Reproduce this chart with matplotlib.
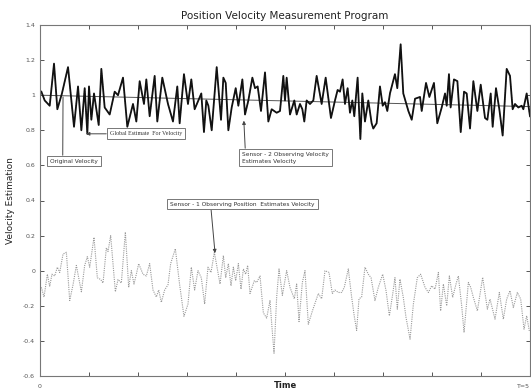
import matplotlib
matplotlib.use("Agg")
from matplotlib import pyplot as plt

# sensor 2 (observing velocity) estimate
t_top = [0.014, 0.048, 0.099, 0.143, 0.177, 0.224, 0.286, 0.347, 0.388, 0.422,
         0.456, 0.483, 0.5, 0.524, 0.551, 0.599, 0.626, 0.660, 0.711, 0.762,
         0.796, 0.847, 0.891, 0.949, 0.983, 1.017, 1.061, 1.085, 1.119, 1.170,
         1.197, 1.248, 1.306, 1.357, 1.401, 1.425, 1.469, 1.510, 1.544, 1.578,
         1.646, 1.673, 1.697, 1.718, 1.752, 1.803, 1.847, 1.871, 1.895, 1.922,
         1.956, 1.997, 2.024, 2.065, 2.092, 2.126, 2.167, 2.194, 2.221, 2.255,
         2.296, 2.330, 2.364, 2.415, 2.449, 2.483, 2.5, 2.517, 2.551, 2.595,
         2.619, 2.653, 2.677, 2.697, 2.721, 2.755, 2.789, 2.823, 2.874, 2.915,
         2.969, 3.010, 3.037, 3.061, 3.088, 3.112, 3.139, 3.163, 3.187, 3.207,
         3.241, 3.269, 3.289, 3.316, 3.350, 3.384, 3.401, 3.435, 3.469, 3.497,
         3.520, 3.544, 3.571, 3.622, 3.646, 3.680, 3.707, 3.759, 3.793, 3.827,
         3.878, 3.895, 3.939, 3.973, 4.020, 4.054, 4.099, 4.133, 4.150, 4.173,
         4.190, 4.224, 4.259, 4.293, 4.327, 4.354, 4.388, 4.422, 4.463, 4.497,
         4.541, 4.565, 4.599, 4.619, 4.653, 4.687, 4.721, 4.762, 4.796, 4.823,
         4.847, 4.881, 4.915, 4.932, 4.966, 5.0]
v_top = [1.02, 0.97, 0.94, 1.18, 0.92, 1.01, 1.16, 0.82, 1.05, 0.80,
         1.04, 0.78, 1.05, 0.86, 1.01, 0.83, 1.15, 0.93, 0.89, 1.02,
         1.00, 1.10, 0.82, 0.95, 0.85, 1.08, 0.95, 1.09, 0.88, 1.11,
         0.85, 1.10, 0.95, 0.85, 1.05, 0.84, 1.12, 0.95, 1.09, 0.92,
         1.01, 0.79, 0.97, 0.94, 0.80, 1.16, 0.86, 1.10, 1.07, 0.80,
         0.93, 1.04, 0.94, 1.09, 0.89, 0.97, 1.10, 1.04, 1.05, 0.91,
         1.13, 0.85, 0.92, 0.90, 0.91, 1.11, 0.97, 1.10, 0.89, 0.97,
         0.89, 0.95, 0.92, 0.85, 0.97, 0.95, 0.97, 1.11, 0.95, 1.10,
         0.87, 0.97, 1.03, 1.02, 1.09, 0.95, 1.04, 0.90, 0.97, 0.88,
         1.10, 0.75, 1.01, 0.85, 0.97, 0.84, 0.81, 0.84, 1.05, 0.94,
         0.96, 0.91, 1.01, 1.12, 1.04, 1.29, 1.01, 0.91, 0.86, 0.98,
         0.99, 0.91, 1.07, 0.99, 1.07, 0.84, 0.93, 1.01, 0.94, 1.12,
         0.93, 1.09, 1.08, 0.79, 1.02, 1.01, 0.81, 1.08, 0.91, 1.06,
         0.87, 0.86, 1.01, 0.82, 1.04, 0.92, 0.77, 1.15, 1.11, 0.92,
         0.95, 0.93, 0.94, 0.92, 1.01, 0.88]

# global estimate for velocity
t_glob = [0.0, 5.0]
v_glob = [1.0, 0.935]

# sensor 1 (observing position) estimate
t_bot = [0.014, 0.041, 0.075, 0.099, 0.122, 0.150, 0.177, 0.201, 0.235, 0.269,
         0.303, 0.337, 0.371, 0.422, 0.456, 0.483, 0.507, 0.551, 0.585, 0.619,
         0.643, 0.677, 0.694, 0.721, 0.769, 0.796, 0.830, 0.871, 0.905, 0.932,
         0.959, 0.983, 1.007, 1.051, 1.085, 1.119, 1.153, 1.187, 1.211, 1.238,
         1.272, 1.306, 1.333, 1.381, 1.425, 1.469, 1.510, 1.544, 1.578, 1.612,
         1.646, 1.680, 1.714, 1.745, 1.779, 1.813, 1.837, 1.871, 1.895, 1.922,
         1.949, 1.973, 1.997, 2.024, 2.051, 2.075, 2.099, 2.119, 2.143, 2.187,
         2.211, 2.245, 2.279, 2.313, 2.347, 2.364, 2.388, 2.415, 2.439, 2.473,
         2.517, 2.551, 2.595, 2.619, 2.643, 2.677, 2.704, 2.738, 2.779, 2.840,
         2.874, 2.908, 2.949, 2.983, 3.010, 3.044, 3.078, 3.105, 3.146, 3.180,
         3.207, 3.231, 3.255, 3.282, 3.316, 3.350, 3.378, 3.401, 3.418, 3.452,
         3.497, 3.531, 3.565, 3.599, 3.622, 3.646, 3.673, 3.707, 3.735, 3.776,
         3.810, 3.850, 3.884, 3.929, 3.963, 3.997, 4.031, 4.065, 4.088, 4.116,
         4.150, 4.177, 4.211, 4.245, 4.269, 4.303, 4.327, 4.371, 4.395, 4.422,
         4.463, 4.517, 4.565, 4.592, 4.643, 4.687, 4.728, 4.762, 4.796, 4.830,
         4.871, 4.905, 4.939, 4.966, 4.993]
v_bot = [-0.095, -0.15, -0.02, -0.09, -0.02, -0.03, 0.02, -0.01, 0.095, 0.105,
         -0.17, -0.08, 0.03, -0.12, 0.03, 0.08, 0.02, 0.19, -0.04, -0.05,
         -0.07, 0.13, 0.11, 0.20, -0.12, -0.05, -0.07, 0.22, -0.095, 0.0,
         -0.076, -0.02, 0.04, -0.02, -0.03, 0.04, -0.11, -0.15, -0.11, -0.18,
         -0.11, -0.08, 0.04, 0.125, -0.08, -0.26, -0.19, 0.02, -0.11, 0.0,
         -0.04, -0.19, 0.02, -0.01, 0.105, 0.0, -0.076, 0.086, -0.04, 0.04,
         -0.086, 0.02, -0.057, 0.04, -0.105, 0.01, -0.02, 0.03, -0.13, -0.057,
         -0.067, -0.03, -0.24, -0.27, -0.17, -0.30, -0.47, -0.15, 0.01, -0.14,
         0.0, -0.095, -0.16, -0.076, -0.29, -0.067, 0.0, -0.305, -0.23, -0.13,
         -0.16, 0.0, -0.01, -0.13, -0.11, -0.124, -0.124, -0.095, 0.01, -0.15,
         -0.26, -0.34, -0.16, -0.15, 0.02, -0.02, -0.04, -0.114, -0.17, -0.095,
         -0.02, -0.114, -0.257, -0.133, -0.04, -0.219, -0.048, -0.152, -0.267, -0.39,
         -0.19, -0.04, -0.02, -0.095, -0.124, -0.086, -0.105, -0.01, -0.229, -0.076,
         -0.20, -0.03, -0.152, -0.076, -0.03, -0.20, -0.352, -0.067, -0.095, -0.152,
         -0.229, -0.038, -0.219, -0.162, -0.276, -0.124, -0.276, -0.162, -0.114, -0.21,
         -0.124, -0.162, -0.333, -0.257, -0.343]

yticks = [-0.6, -0.4, -0.2, 0, 0.2, 0.4, 0.6, 0.8, 1, 1.2, 1.4]
ytick_labels = ["-0.6", "-0.4", "-0.2", "0", "0.2", "0.4", "0.6", "0.8", "1", "1.2", "1.4"]
xticks = [0, 0.5, 1, 1.5, 2, 2.5, 3, 3.5, 4, 4.5, 5]
xtick_labels = ["0", "", "", "", "", "", "", "", "", "", "T=5"]


def main():
    fig = plt.figure(figsize=(5.31, 3.92), dpi=100)
    ax = fig.add_axes([40 / 531, 16 / 392, 490 / 531, 351 / 392])

    ax.plot(t_bot, v_bot, color="#999999", lw=0.8, ls=(0, (1, 1)))
    ax.plot(t_top, v_top, color="#9a9a9a", lw=0.8, ls=(0, (1, 1)))
    ax.plot(t_glob, v_glob, color="#555555", lw=0.7)
    ax.plot(t_top, v_top, color="#111111", lw=1.3)

    ax.set_xlim(0, 5)
    ax.set_ylim(-0.6, 1.4)
    ax.set_yticks(yticks)
    ax.set_yticklabels(ytick_labels)
    ax.set_xticks(xticks)
    ax.set_xticklabels(xtick_labels)
    ax.tick_params(direction="in", length=3, width=0.7, color="#555555",
                   labelsize=4.5, labelcolor="#555555", top=True, right=True)
    ax.tick_params(axis="x", pad=6)
    ax.get_xticklabels()[-1].set_horizontalalignment("right")
    for s in ax.spines.values():
        s.set_color("#777777")
        s.set_linewidth(0.8)

    ax.set_title("Position Velocity Measurement Program", fontsize=7.5,
                 color="#222222", pad=4)
    ax.set_ylabel("Velocity Estimation", fontsize=6.5, color="#222222", labelpad=6)
    # x label sits right on the lower edge, as in the original
    fig.text(285 / 531, 2 / 392, "Time", fontsize=6, color="#222222",
             fontweight="bold", ha="center", va="bottom")

    box = dict(boxstyle="square,pad=0.5", fc="white", ec="#777777", lw=0.7)
    arrow = dict(arrowstyle="-|>", color="#444444", lw=0.7, mutation_scale=5,
                 shrinkA=0, shrinkB=0)

    ax.annotate("Original Velocity", xy=(0.235, 0.99), xytext=(0.10, 0.625),
                fontsize=4.2, color="#333333", ha="left", va="center", bbox=box,
                arrowprops=dict(arrowstyle="-", color="#444444", lw=0.7,
                                shrinkA=0, shrinkB=0, relpos=(0.27, 1.0)))
    ax.annotate("Global Estimate  For Velocity", xy=(0.47, 0.78), xytext=(0.71, 0.78),
                fontsize=4.3, family="Liberation Serif", color="#333333",
                ha="left", va="center", bbox=box, arrowprops=dict(arrow, relpos=(0, 0.5)))
    ax.annotate("Sensor - 2 Observing Velocity\nEstimates Velocity", xy=(2.08, 0.855),
                xytext=(2.06, 0.645), fontsize=4.2, color="#333333",
                ha="left", va="center", linespacing=1.5, bbox=box,
                arrowprops=dict(arrow, relpos=(0.04, 1.0)))
    ax.annotate("Sensor - 1 Observing Position  Estimates Velocity", xy=(1.786, 0.10),
                xytext=(1.33, 0.38), fontsize=4.2, color="#333333",
                ha="left", va="center", bbox=box,
                arrowprops=dict(arrow, relpos=(0.28, 0.0)))

    plt.savefig("out.png", dpi=100)


if __name__ == "__main__":
    main()
